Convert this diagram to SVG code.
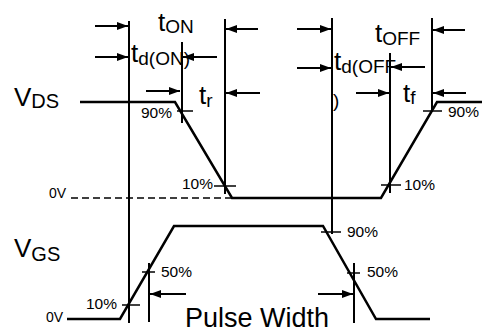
<svg xmlns="http://www.w3.org/2000/svg" width="482" height="333" viewBox="0 0 482 333">
<defs>
<marker id="ah" viewBox="0 0 11 8" refX="11" refY="4" markerWidth="11" markerHeight="8" markerUnits="userSpaceOnUse" orient="auto">
<path d="M0,0 L11,4 L0,8 Z" fill="#000"/>
</marker>
<style>
.w{fill:none;stroke:#000;stroke-width:2.5;stroke-linejoin:miter}
.v{stroke:#000;stroke-width:2}
.k{stroke:#000;stroke-width:1.5}
.a{stroke:#000;stroke-width:2;marker-end:url(#ah)}
.d{stroke:#000;stroke-width:1.5;stroke-dasharray:7 4}
text{font-family:"Liberation Sans",Arial,sans-serif;fill:#000}
.big{font-size:26px}
.sub{font-size:19px}
.pc{font-size:15.5px}
.z{font-size:14px}
</style>
</defs>
<rect width="482" height="333" fill="#fff"/>
<g id="waveforms">
<polyline class="w" points="80,102 175,102 232,198 381,198 437,102 482,102"/>
<polyline class="w" points="67,319 120,319 174,226 323,226 376,319 430,319"/>
<line class="d" x1="71" y1="198" x2="232" y2="198"/>
</g>
<g id="connectors">
<line class="v" x1="129" y1="21" x2="129" y2="323"/>
<line class="v" x1="182" y1="42" x2="182" y2="123"/>
<line class="v" x1="225" y1="19" x2="225" y2="194"/>
<line class="v" x1="332" y1="18" x2="332" y2="234"/>
<line class="v" x1="390" y1="53" x2="390" y2="193"/>
<line class="v" x1="432" y1="18" x2="432" y2="112"/>
<line class="v" x1="149" y1="263" x2="149" y2="322"/>
<line class="v" x1="354" y1="263" x2="354" y2="323"/>
<line class="k" x1="177" y1="111" x2="193" y2="111"/>
<line class="k" x1="214" y1="186" x2="236" y2="186"/>
<line class="k" x1="381" y1="185" x2="401" y2="185"/>
<line class="k" x1="423" y1="111" x2="442" y2="111"/>
<line class="k" x1="122" y1="305" x2="140" y2="305"/>
<line class="k" x1="142" y1="272" x2="155" y2="272"/>
<line class="k" x1="321" y1="232" x2="341" y2="232"/>
<line class="k" x1="347" y1="273" x2="360" y2="273"/>
<line class="a" x1="95" y1="26" x2="128" y2="26"/>
<line class="a" x1="258" y1="29" x2="226" y2="29"/>
<line class="a" x1="95" y1="57" x2="128" y2="57"/>
<line class="a" x1="217" y1="57" x2="183" y2="57"/>
<line class="a" x1="146" y1="91" x2="180" y2="91"/>
<line class="a" x1="260" y1="93" x2="226" y2="93"/>
<line class="a" x1="297" y1="29" x2="331" y2="29"/>
<line class="a" x1="465" y1="30" x2="433" y2="30"/>
<line class="a" x1="297" y1="68" x2="331" y2="68"/>
<line class="a" x1="425" y1="67" x2="391" y2="67"/>
<line class="a" x1="356" y1="93" x2="389" y2="93"/>
<line class="a" x1="466" y1="93" x2="433" y2="93"/>
<line class="a" x1="186" y1="294" x2="150" y2="294"/>
<line class="a" x1="318" y1="294" x2="353" y2="294"/>
</g>
<g id="labels">
<text x="158" y="31" class="big">t<tspan class="sub" dy="2">ON</tspan></text>
<text x="131" y="62" class="big">t<tspan class="sub" dy="3">d(ON)</tspan></text>
<text x="199" y="104" class="big">t<tspan class="sub" dy="3">r</tspan></text>
<text x="375" y="42" class="big">t<tspan class="sub" dy="3">OFF</tspan></text>
<text x="334" y="70" class="big">t<tspan class="sub" dy="3">d(OFF</tspan></text>
<text x="333" y="107" class="sub">)</text>
<text x="403" y="102" class="big">t<tspan class="sub" dy="2">f</tspan></text>
<text x="14" y="106" class="big">V<tspan style="font-size:20px" dy="2">DS</tspan></text>
<text x="14" y="257" class="big">V<tspan style="font-size:20px" dy="4">GS</tspan></text>
<text x="66" y="198" class="z" text-anchor="end">0V</text>
<text x="63" y="322" class="z" text-anchor="end">0V</text>
<text x="141" y="118" class="pc">90%</text>
<text x="182" y="189" class="pc">10%</text>
<text x="404" y="190" class="pc">10%</text>
<text x="448" y="117" class="pc">90%</text>
<text x="86" y="309" class="pc">10%</text>
<text x="161" y="277" class="pc">50%</text>
<text x="347" y="237" class="pc">90%</text>
<text x="367" y="277" class="pc">50%</text>
<text x="185" y="327" style="font-size:27px">Pulse Width</text>
</g>
</svg>
